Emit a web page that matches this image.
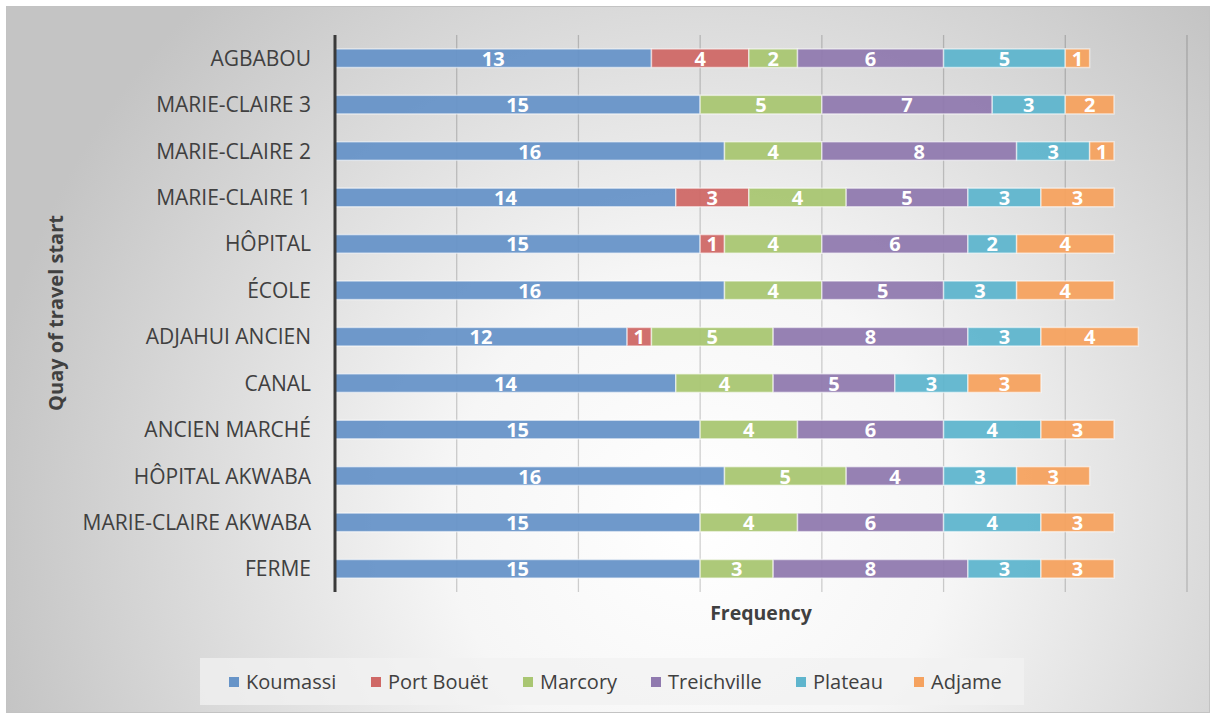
<!DOCTYPE html>
<html>
<head>
<meta charset="utf-8">
<script src="https://cdn.jsdelivr.net/npm/d3@7"></script>
<style>
  html, body { margin: 0; padding: 0; background: #fff; }
  text { font-family: 'Open Sans', sans-serif; }
</style>
</head>
<body>
<div id="chart"></div>
<script>
const categories = [
  'AGBABOU', 'MARIE-CLAIRE 3', 'MARIE-CLAIRE 2', 'MARIE-CLAIRE 1', 'HÔPITAL', 'ÉCOLE',
  'ADJAHUI ANCIEN', 'CANAL', 'ANCIEN MARCHÉ', 'HÔPITAL AKWABA', 'MARIE-CLAIRE AKWABA', 'FERME',
];
const seriesNames = ['Koumassi', 'Port Bouët', 'Marcory', 'Treichville', 'Plateau', 'Adjame'];
const seriesColors = ['#6794c8', '#cf6866', '#a9c672', '#907aaf', '#5fb5cd', '#f5a25f'];
const koumassi = [13, 15, 16, 14, 15, 16, 12, 14, 15, 16, 15, 15];
const portBouet = [4, 0, 0, 3, 1, 0, 1, 0, 0, 0, 0, 0];
const marcory = [2, 5, 4, 4, 4, 4, 5, 4, 4, 5, 4, 3];
const treichville = [6, 7, 8, 5, 6, 5, 8, 5, 6, 4, 6, 8];
const plateau = [5, 3, 3, 3, 2, 3, 3, 3, 4, 3, 4, 3];
const adjame = [1, 2, 1, 3, 4, 4, 4, 3, 3, 3, 3, 3];
const xTicks = [0, 5, 10, 15, 20, 25, 30, 35];

const WIDTH = 1213;
const HEIGHT = 717;
const margin = { left: 335, right: 26, top: 35, bottom: 125 };

const seriesValues = [koumassi, portBouet, marcory, treichville, plateau, adjame];
const table = categories.map((c, i) => {
  const row = { category: c };
  seriesNames.forEach((s, j) => (row[s] = seriesValues[j][i]));
  return row;
});

const svg = d3
  .select('#chart')
  .append('svg')
  .attr('width', WIDTH)
  .attr('height', HEIGHT);

// 背景のグラデーション
const grad = svg
  .append('defs')
  .append('radialGradient')
  .attr('id', 'bg')
  .attr('gradientUnits', 'userSpaceOnUse')
  .attr('cx', 700)
  .attr('cy', 520)
  .attr('r', 720);
grad.append('stop').attr('offset', '0%').attr('stop-color', '#ffffff');
grad.append('stop').attr('offset', '35%').attr('stop-color', '#f6f6f6');
grad.append('stop').attr('offset', '100%').attr('stop-color', '#c4c4c4');

svg
  .append('rect')
  .attr('x', 6.5)
  .attr('y', 6.5)
  .attr('width', WIDTH - 10)
  .attr('height', HEIGHT - 11)
  .attr('fill', 'url(#bg)')
  .attr('stroke', '#c3c3c3')
  .attr('stroke-width', 1);

const x = d3
  .scaleLinear()
  .domain([0, 35])
  .range([margin.left, WIDTH - margin.right]);

const y = d3
  .scaleBand()
  .domain(categories)
  .range([margin.top, HEIGHT - margin.bottom])
  .paddingInner(0.6)
  .paddingOuter(0.3);

// グリッド線
svg
  .append('g')
  .selectAll('line')
  .data(xTicks.slice(1))
  .enter()
  .append('line')
  .attr('x1', (d) => x(d))
  .attr('x2', (d) => x(d))
  .attr('y1', margin.top)
  .attr('y2', HEIGHT - margin.bottom)
  .attr('stroke', 'rgba(0,0,0,0.18)')
  .attr('stroke-width', 1.3);

const stack = d3.stack().keys(seriesNames);
const stacked = stack(table);

const layer = svg
  .append('g')
  .selectAll('g')
  .data(stacked)
  .enter()
  .append('g')
  .attr('fill', (d, i) => seriesColors[i]);

layer
  .selectAll('rect')
  .data((d) => d.filter((p) => p[1] - p[0] > 0))
  .enter()
  .append('rect')
  .attr('x', (d) => x(d[0]))
  .attr('y', (d) => y(d.data.category))
  .attr('width', (d) => x(d[1]) - x(d[0]))
  .attr('height', y.bandwidth())
  .attr('fill-opacity', 0.95)
  .attr('stroke', 'rgba(255,255,255,0.55)')
  .attr('stroke-width', 1.5);

layer
  .selectAll('text')
  .data((d) => d.filter((p) => p[1] - p[0] > 0))
  .enter()
  .append('text')
  .attr('x', (d) => (x(d[0]) + x(d[1])) / 2)
  .attr('y', (d) => y(d.data.category) + y.bandwidth() / 2)
  .attr('dy', '0.38em')
  .attr('text-anchor', 'middle')
  .attr('fill', '#ffffff')
  .attr('font-size', 20)
  .attr('font-weight', 'bold')
  .text((d) => d[1] - d[0]);

// 縦軸
svg
  .append('line')
  .attr('x1', x(0))
  .attr('x2', x(0))
  .attr('y1', margin.top)
  .attr('y2', HEIGHT - margin.bottom)
  .attr('stroke', '#3a3a3a')
  .attr('stroke-width', 3);

svg
  .append('g')
  .selectAll('text')
  .data(categories)
  .enter()
  .append('text')
  .attr('x', x(0) - 24)
  .attr('y', (d) => y(d) + y.bandwidth() / 2)
  .attr('dy', '0.36em')
  .attr('text-anchor', 'end')
  .attr('fill', '#404040')
  .attr('font-size', 21)
  .text((d) => d);

svg
  .append('text')
  .attr('transform', 'translate(63,313) rotate(-90)')
  .attr('text-anchor', 'middle')
  .attr('fill', '#404040')
  .attr('font-size', 20)
  .attr('font-weight', 'bold')
  .text('Quay of travel start');

svg
  .append('text')
  .attr('x', (x(0) + x(35)) / 2)
  .attr('y', 620)
  .attr('text-anchor', 'middle')
  .attr('fill', '#404040')
  .attr('font-size', 19.5)
  .attr('font-weight', 'bold')
  .text('Frequency');

// 凡例
const legend = svg.append('g');
legend
  .append('rect')
  .attr('x', 200)
  .attr('y', 658)
  .attr('width', 824)
  .attr('height', 47)
  .attr('fill', 'rgba(242,242,242,0.75)');

const legendX = [229, 371, 523, 651, 796, 914];
const item = legend
  .selectAll('g')
  .data(seriesNames)
  .enter()
  .append('g')
  .attr('transform', (d, i) => `translate(${legendX[i]},682)`);

item
  .append('rect')
  .attr('x', 0)
  .attr('y', -5)
  .attr('width', 10)
  .attr('height', 10)
  .attr('fill', (d, i) => seriesColors[i]);

item
  .append('text')
  .attr('x', 17)
  .attr('dy', '0.36em')
  .attr('fill', '#404040')
  .attr('font-size', 20)
  .text((d) => d);
</script>
</body>
</html>
